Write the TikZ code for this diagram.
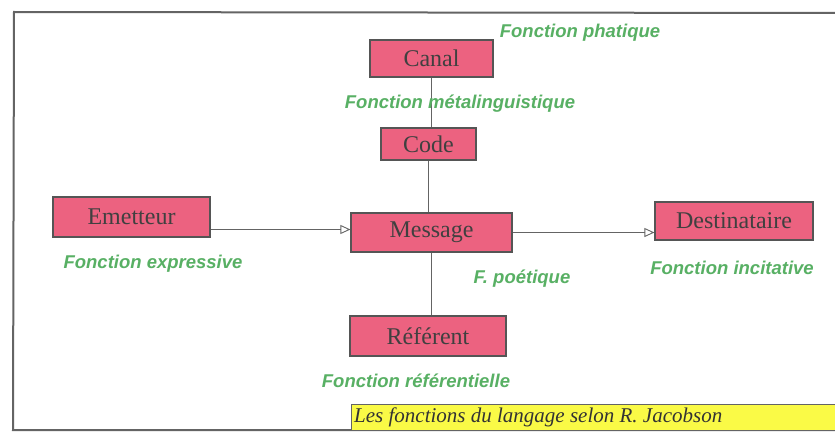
\documentclass[tikz,border=0pt]{standalone}
\usepackage{fontspec}
\setmainfont{Liberation Serif}
\newfontfamily\lblfont{Liberation Sans}
\usetikzlibrary{arrows.meta}
\definecolor{boxpink}{RGB}{236,98,128}
\definecolor{boxedge}{RGB}{85,85,85}
\definecolor{lblgreen}{RGB}{88,176,100}
\definecolor{capyellow}{RGB}{250,250,70}
\definecolor{linegray}{RGB}{100,100,100}
\begin{document}
\begin{tikzpicture}[x=1pt,y=-1pt,
  fbox/.style={draw=boxedge,line width=1.2pt,fill=boxpink,inner sep=0pt,
    font=\fontsize{24}{26}\selectfont,text=black!75},
  lbl/.style={text=lblgreen,font=\lblfont\bfseries\itshape\fontsize{18.5}{20}\selectfont,inner sep=0pt},
  conn/.style={draw=linegray,line width=0.9pt},
  arr/.style={conn,-{Triangle[open,length=10pt,width=9pt]}}]
\useasboundingbox (0,0) rectangle (835,436);
\fill[white] (0,0) rectangle (835,436);
% outer frame
\draw[linegray,line width=2pt] (840,13) -- (14,12) -- (13,430) -- (840,430);
% caption
\fill[capyellow] (351,405) rectangle (840,430);
\draw[linegray,line width=1pt] (351,404) -- (840,404);
\draw[linegray,line width=1pt] (351,404) -- (351,430);
\node[anchor=west,inner sep=0pt,font=\itshape\fontsize{21}{23}\selectfont,text=black!80] (cap) at (354,417) {Les fonctions du langage selon R. Jacobson};
% boxes
\node[fbox,minimum width=123pt,minimum height=37pt] (canal) at (431.5,58.5) {Canal};
\node[fbox,minimum width=95pt,minimum height=32pt] (code) at (428.5,144) {Code};
\node[fbox,minimum width=157pt,minimum height=40pt] (em) at (131.5,217) {Emetteur};
\node[fbox,minimum width=161pt,minimum height=39pt] (msg) at (431.5,232.5) {Message};
\node[fbox,minimum width=158pt,minimum height=38pt] (dest) at (734,221) {Destinataire};
\node[fbox,minimum width=156pt,minimum height=40pt] (ref) at (428,336) {Référent};
% connectors
\draw[conn] (canal.south) -- (canal.south |- code.north);
\draw[conn] (code.south) -- (code.south |- msg.north);
\draw[conn] (msg.south) -- (msg.south |- ref.north);
\draw[arr] ([yshift=3pt]em.east |- msg.west) -- ([yshift=3pt]msg.west);
\draw[arr] (msg.east) -- (msg.east -| dest.west);
% labels
\node[lbl] (lphat) at (580,33) {Fonction phatique};
\node[lbl] (lmeta) at (460,104) {Fonction métalinguistique};
\node[lbl] (lexpr) at (153,264) {Fonction expressive};
\node[lbl] (lpoet) at (522,279) {F. poétique};
\node[lbl] (linci) at (732,268) {Fonction incitative};
\node[lbl] (lref) at (416,381) {Fonction référentielle};
\end{tikzpicture}
\end{document}
